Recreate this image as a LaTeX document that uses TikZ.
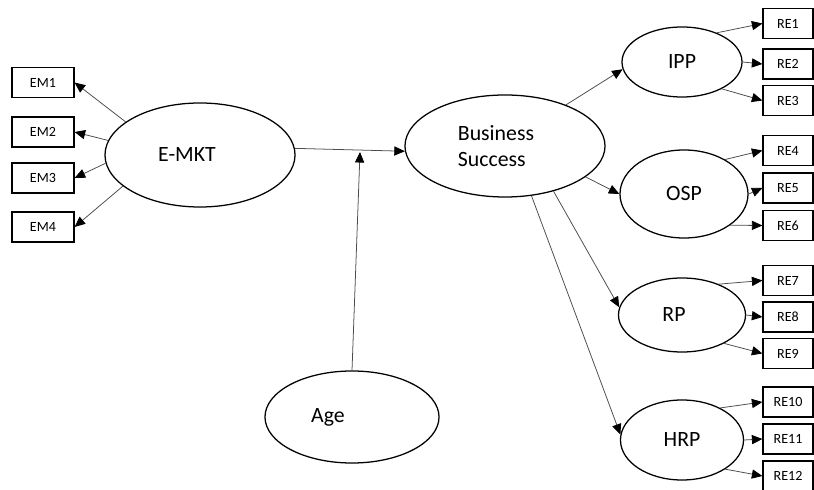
\documentclass[tikz,border=0pt]{standalone}
\usepackage{fontspec}
\setmainfont{Carlito}
\usetikzlibrary{arrows.meta,shapes.geometric}

\begin{document}
\begin{tikzpicture}[x=0.025cm,y=-0.025cm,
  >={Triangle[length=7.5pt,width=6.5pt,color=black]},
  latent/.style={ellipse,draw,line width=0.9pt,inner sep=0pt,
    font=\fontsize{15.5}{18.5}\selectfont},
  ind/.style={rectangle,draw,line width=0.8pt,minimum height=0.75cm,
    inner sep=0pt,font=\fontsize{10}{12}\selectfont},
  load/.style={->,gray!60!black,line width=0.55pt}]
  \useasboundingbox (0,0) rectangle (814,490);

  % latent variables
  \node[latent,minimum width=4.75cm,minimum height=2.6cm] (emkt) at (200,155)
    {E-MKT\hspace*{0.65cm}};
  \node[latent,minimum width=5cm,minimum height=2.55cm,align=left] (bs) at (505,146)
    {Business\hspace*{0.45cm}\\Success};
  \node[latent,minimum width=4.35cm,minimum height=2.3cm] (age) at (352,417)
    {Age\hspace*{1.2cm}};
  \node[latent,minimum width=3cm,minimum height=1.75cm] (ipp) at (682,62) {IPP};
  \node[latent,minimum width=3.2cm,minimum height=2.2cm] (osp) at (684,194) {OSP};
  \node[latent,minimum width=3.175cm,minimum height=1.85cm] (rp) at (682,315)
    {RP\hspace*{0.4cm}};
  \node[latent,minimum width=3.075cm,minimum height=2cm] (hrp) at (682,440) {HRP};

  % indicators
  \foreach \i/\yy in {1/82.5,2/132,3/178,4/227}
    \node[ind,minimum width=1.55cm] (em\i) at (43,\yy) {EM\i};
  \foreach \i/\yy in {1/23.5,2/64,3/100.5,4/150.5,5/188,6/225.5,
                      7/280.5,8/317,9/353.5,10/402,11/439,12/476}
    \node[ind,minimum width=1.25cm] (re\i) at (788,\yy) {RE\i};

  % loadings
  \foreach \i/\a in {1/156,2/171,3/185,4/202}
    \draw[load] (emkt.\a) -- (em\i.east);
  \foreach \lat/\a/\b/\c in {ipp/1/2/3,osp/4/5/6,rp/7/8/9,hrp/10/11/12} {
    \draw[load] (\lat.40) -- (re\a.west);
    \draw[load] (\lat.east) -- (re\b.west);
    \draw[load] (\lat.326) -- (re\c.west);
  }

  % paths
  \draw[load] (emkt.4) -- (bs.183);
  \coordinate (mod) at (360,152);
  \draw[load] (age.north) -- (mod);
  \draw[load] (bs.34) -- (ipp.187);
  \draw[load] (bs.339) -- (osp.west);
  \draw[load] (bs.317) -- (rp.173);
  \draw[load] (bs.298) -- (hrp.175);
\end{tikzpicture}
\end{document}
